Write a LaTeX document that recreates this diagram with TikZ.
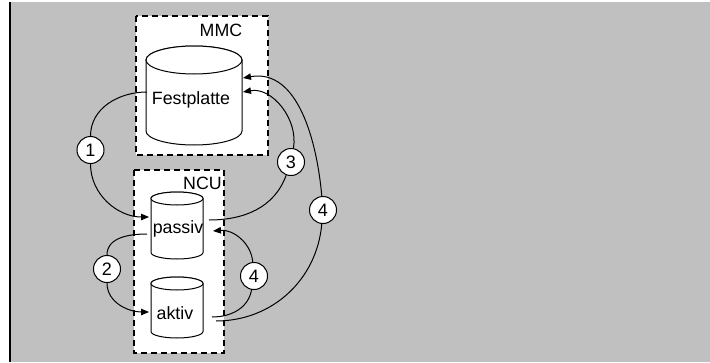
\documentclass[tikz,border=0pt]{standalone}
\usepackage{fontspec}
\setmainfont{Liberation Sans}
\usetikzlibrary{arrows.meta}
\newcommand\mycyl[5]{%
  \filldraw[cyl] (#1-#4,#2) -- (#1-#4,#3) arc[start angle=180,end angle=0,x radius=#4,y radius=#5]
    -- (#1+#4,#2) arc[start angle=0,end angle=-180,x radius=#4,y radius=#5] -- cycle;
  \draw[cyl] (#1,#2) ellipse[x radius=#4,y radius=#5];}
\begin{document}
\begin{tikzpicture}[x=1pt,y=-1pt,
  cyl/.style={draw=black,fill=white,line width=1pt},
  grp/.style={draw=black,fill=white,line width=1.2pt,dash pattern=on 6pt off 4pt},
  lbl/.style={inner sep=0pt,font=\fontsize{17.8}{20}\selectfont},
  num/.style={circle,draw=black,fill=white,line width=1pt,minimum size=27pt,inner sep=0pt,font=\fontsize{18}{20}\selectfont},
  arr/.style={draw=black,line width=1pt,-{Triangle[length=8pt,width=6.5pt]}}]
\useasboundingbox (0,0) rectangle (710,362);
\fill[white] (0,0) rectangle (710,362);
\fill[fill={rgb,255:red,192;green,192;blue,192}] (10,2) rectangle (710,362);
\draw[line width=1.5pt] (9.75,2) -- (9.75,362);
% groups
\draw[grp] (136,16) rectangle (268,155);
\draw[grp] (134,170) rectangle (224,353);
\node[lbl] (mmc) at (221,30) {MMC};
\node[lbl] (ncu) at (202.5,183) {NCU};
% cylinders
\mycyl{194}{60}{131}{48}{14}
\mycyl{177}{198.5}{252.5}{26}{6.5}
\mycyl{177}{283.5}{331.5}{26}{6.5}
\node[lbl] (fest) at (191,100) {Festplatte};
\node[lbl] (passiv) at (178,229) {passiv};
\node[lbl] (aktiv) at (175,313) {aktiv};
% connector ends
\coordinate (f1) at (147,92);
\coordinate (f3) at (243,92);
\coordinate (f4) at (243,78);
\coordinate (p1) at (149,217);
\coordinate (p2) at (147,234);
\coordinate (p3) at (209,220);
\coordinate (p4) at (213,231);
\coordinate (a2) at (149,312);
\coordinate (a4) at (212,317);
\coordinate (a5) at (216,321);
% number circles
\node[num] (c1) at (90.5,150) {1};
\node[num] (c2) at (107,269) {2};
\node[num] (c3) at (291,162) {3};
\node[num] (c4) at (323,210) {4};
\node[num] (c5) at (254,276) {4};
% connectors
\draw[arr] (f1) to[out=180,in=90] (c1) to[out=-90,in=180] (p1);
\draw[arr] (p2) to[out=180,in=90] (c2) to[out=-90,in=180] (a2);
\draw[arr] (p3) to[out=0,in=-110] (c3) to[out=80,in=10] (f3);
\draw[arr] (a5) to[out=0,in=-95] (c4) to[out=95,in=10] (f4);
\draw[arr] (a4) to[out=0,in=-100] (c5) to[out=95,in=5] (p4);
\end{tikzpicture}
\end{document}
